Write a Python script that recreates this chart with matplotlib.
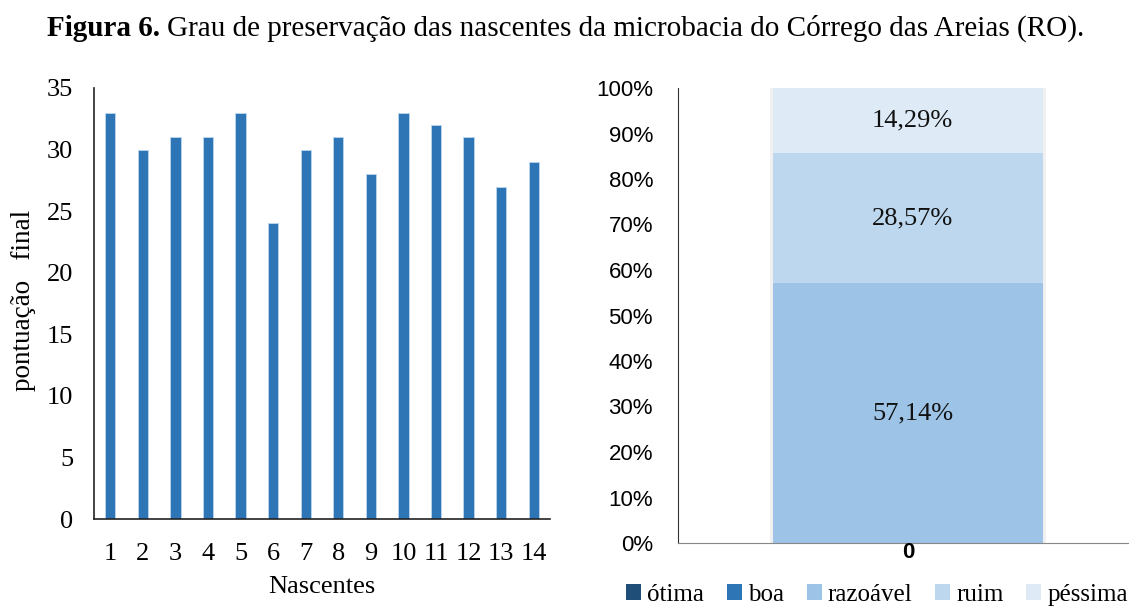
import matplotlib.pyplot as plt
import numpy as np

# dados
nascentes = [str(i) for i in range(1, 15)]
pontuacao = [33, 30, 31, 31, 33, 24, 30, 31, 28, 33, 32, 31, 27, 29]

classes = ['ótima', 'boa', 'razoável', 'ruim', 'péssima']
percentuais = [0.0, 0.0, 57.14, 28.57, 14.29]
cores = ['#1F4E79', '#2E75B6', '#9DC3E6', '#BDD7EE', '#DEEBF7']

serif = 'Liberation Serif'
sans = 'Liberation Sans'

fig = plt.figure(figsize=(11.29, 6.08), dpi=100)

# titulo com parte em negrito
t1 = fig.text(47 / 1129, 1 - 28 / 608, 'Figura 6.', fontsize=21, fontweight='bold',
              family=serif, va='center', ha='left')
fig.canvas.draw()
bb = t1.get_window_extent()
x2 = (bb.x1 + 7) / fig.bbox.width
fig.text(x2, 1 - 28 / 608, 'Grau de preservação das nascentes da microbacia do Córrego das Areias (RO).',
         fontsize=21, family=serif, va='center', ha='left')

# grafico de barras
ax1 = fig.add_axes([94 / 1129, 1 - 519 / 608, (550 - 94) / 1129, (519 - 88) / 608])
x = np.arange(len(nascentes))
ax1.bar(x, pontuacao, width=0.32, color='#2E75B6', edgecolor='#BDD7EE', linewidth=0.6)
ax1.set_xlim(-0.5, len(nascentes) - 0.5)
ax1.set_ylim(0, 35)
ax1.set_yticks(range(0, 36, 5))
ax1.set_xticks(x)
ax1.set_xticklabels(nascentes)
for s in ['top', 'right']:
    ax1.spines[s].set_visible(False)
for s in ['left', 'bottom']:
    ax1.spines[s].set_color('#222222')
    ax1.spines[s].set_linewidth(1.2)
ax1.tick_params(length=0, labelsize=19, pad=15)
ax1.tick_params(axis='x', pad=17)
for lab in ax1.get_xticklabels() + ax1.get_yticklabels():
    lab.set_family(serif)
ax1.set_xlabel('Nascentes', fontsize=19, family=serif, labelpad=8)
fig.text(24 / 1129, 1 - 300 / 608, 'pontuação   final', rotation=90, fontsize=19.5, family=serif,
         ha='center', va='center')

# grafico empilhado
ax2 = fig.add_axes([678 / 1129, 1 - 543 / 608, (1129 - 678) / 1129, (543 - 88) / 608])
xc = 0.01
# sombra leve
ax2.bar([xc], [1.0], width=0.612, color='#000000', alpha=0.06, zorder=0.5)
base = 0.0
for c, p, cor in zip(classes, percentuais, cores):
    ax2.bar([xc], [p / 100], bottom=base, width=0.6, color=cor, label=c, zorder=1)
    if p > 0:
        ax2.text(xc + 0.01, base + p / 200, f'{p:.2f}%'.replace('.', ','), ha='center', va='center',
                 fontsize=19, family=serif, color='#111111', zorder=3)
    base += p / 100
ax2.set_xlim(-0.5, 0.5)
ax2.set_ylim(0, 1)
ax2.set_yticks(np.arange(0, 1.01, 0.1))
ax2.set_yticklabels([f'{int(round(v * 100))}%' for v in np.arange(0, 1.01, 0.1)])
ax2.set_xticks([xc])
ax2.set_xticklabels(['0'])
for s in ['top', 'right']:
    ax2.spines[s].set_visible(False)
ax2.spines['left'].set_color('#333333')
ax2.spines['bottom'].set_color('#888888')
ax2.tick_params(length=0, labelsize=16, pad=18)
ax2.tick_params(axis='x', pad=-1)
ax2.xaxis.set_zorder(5)
for lab in ax2.get_yticklabels():
    lab.set_family(sans)
for lab in ax2.get_xticklabels():
    lab.set_family(sans)
    lab.set_fontweight('bold')

leg = ax2.legend(loc='center right', bbox_to_anchor=(1128 / 1129, 1 - 595 / 608), bbox_transform=fig.transFigure,
                 ncol=5, frameon=False, handlelength=0.6, handleheight=0.6, handletextpad=0.25,
                 columnspacing=0.9, borderpad=0, borderaxespad=0, prop={'family': serif, 'size': 18})

fig.savefig('out.png', dpi=100)
